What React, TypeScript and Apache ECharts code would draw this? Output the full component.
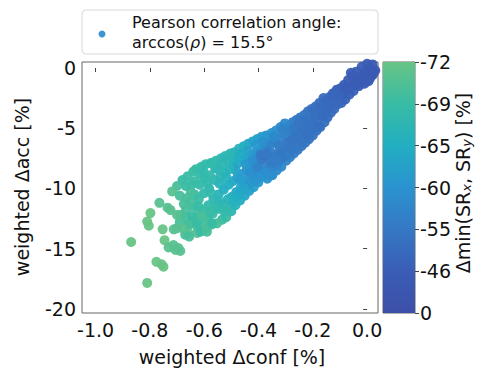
import React, { useEffect, useRef } from 'react';
import * as echarts from 'echarts';

const xTicks = [-1.0, -0.8, -0.6, -0.4, -0.2, 0.0];
const yTicks = [0, -5, -10, -15, -20];
const cbTickValues = [0, -46, -55, -60, -65, -69, -72];
const cbColors = ['#3d4fa8', '#3a5db5', '#3578c4', '#2a93cf', '#22aec2', '#38bca4', '#68c486'];

// [weighted Δconf, weighted Δacc, Δmin(SRx,SRy)]
const tipPoints: number[][] = [
  [0.03, -0.2, -40], [0.02, 0.3, -40], [0.01, 0.0, -42], [0.0, 0.35, -40], [-0.005, -0.3, -42],
  [0.02, -0.6, -42], [0.01, -0.9, -44], [-0.01, -1.3, -44], [0.0, -0.6, -42], [-0.02, 0.1, -42],
  [-0.025, -0.7, -44], [-0.03, -1.5, -46], [-0.015, -1.0, -44], [-0.04, -0.3, -42], [-0.045, -1.1, -44],
  [-0.05, -1.9, -47], [-0.055, -0.7, -44], [-0.06, -1.5, -46], [-0.065, -2.2, -47], [-0.07, -1.0, -44],
  [-0.075, -1.9, -47], [-0.08, -2.6, -48], [-0.085, -1.4, -46], [-0.09, -2.2, -47], [-0.095, -2.9, -48],
  [-0.1, -1.7, -46], [0.025, -0.4, -40], [-0.035, -0.9, -44], [0.005, -1.1, -44], [-0.06, -0.4, -42],
  [0.015, -0.3, -40], [-0.01, -0.6, -42], [-0.04, -1.4, -46], [-0.07, -1.6, -46], [-0.092, -1.7, -46],
  [-0.02, -1.1, -44],
];

const upperBand: number[][] = [
  [-0.104, -2.3, -49], [-0.108, -3.0, -50], [-0.112, -1.8, -48], [-0.117, -2.6, -49], [-0.121, -3.4, -50],
  [-0.126, -2.1, -49], [-0.129, -2.9, -50], [-0.133, -3.7, -51], [-0.138, -2.4, -49], [-0.141, -3.2, -50],
  [-0.146, -4.1, -51], [-0.149, -2.7, -50], [-0.153, -3.6, -51], [-0.157, -4.5, -52], [-0.161, -2.5, -50],
  [-0.164, -3.1, -51], [-0.168, -4.0, -51], [-0.172, -4.9, -52], [-0.176, -2.9, -51], [-0.179, -3.6, -51],
  [-0.183, -4.4, -52], [-0.186, -5.2, -53], [-0.19, -3.2, -52], [-0.193, -4.0, -52], [-0.197, -4.8, -52],
  [-0.2, -5.6, -53], [-0.204, -3.4, -53], [-0.207, -4.3, -52], [-0.211, -5.1, -53], [-0.214, -5.9, -54],
  [-0.218, -3.6, -53], [-0.221, -4.6, -53], [-0.225, -5.4, -52], [-0.228, -6.2, -54], [-0.232, -3.9, -54],
  [-0.235, -4.9, -53], [-0.239, -5.7, -53], [-0.242, -6.5, -54], [-0.246, -4.1, -55], [-0.249, -5.1, -54],
  [-0.253, -6.0, -53], [-0.256, -6.8, -55], [-0.26, -4.3, -55], [-0.263, -5.3, -54], [-0.267, -6.3, -54],
  [-0.27, -7.1, -56], [-0.274, -4.5, -56], [-0.277, -5.5, -55], [-0.281, -6.5, -54], [-0.284, -7.4, -56],
  [-0.288, -4.8, -57], [-0.291, -5.8, -55], [-0.295, -6.8, -55], [-0.298, -7.7, -57],
  [-0.123, -2.2, -49], [-0.145, -3.3, -50], [-0.159, -3.8, -51], [-0.17, -3.3, -51], [-0.181, -4.9, -52],
  [-0.195, -3.6, -52], [-0.209, -4.7, -53], [-0.216, -5.5, -53], [-0.23, -4.4, -53], [-0.237, -5.3, -53],
  [-0.244, -6.1, -54], [-0.251, -4.6, -54], [-0.258, -5.6, -54], [-0.265, -6.6, -55], [-0.272, -5.0, -55],
  [-0.279, -6.0, -54], [-0.286, -6.9, -55], [-0.293, -5.3, -56], [-0.3, -6.3, -54], [-0.3, -7.3, -56],
];

const midBand: number[][] = [
  [-0.303, -4.6, -58], [-0.306, -5.5, -57], [-0.31, -6.6, -55], [-0.313, -7.5, -55], [-0.316, -8.2, -58],
  [-0.319, -4.9, -58], [-0.322, -5.9, -57], [-0.326, -7.0, -55], [-0.329, -7.9, -56], [-0.333, -8.5, -58],
  [-0.336, -5.2, -59], [-0.339, -6.2, -58], [-0.343, -7.3, -55], [-0.346, -8.2, -57], [-0.349, -8.9, -59],
  [-0.352, -5.4, -60], [-0.355, -6.0, -59], [-0.358, -6.9, -56], [-0.362, -7.7, -55], [-0.365, -8.5, -58],
  [-0.368, -9.2, -60], [-0.371, -5.6, -60], [-0.374, -6.5, -58], [-0.378, -7.3, -54], [-0.381, -8.2, -57],
  [-0.384, -9.0, -60], [-0.388, -5.7, -61], [-0.391, -6.8, -58], [-0.394, -7.6, -54], [-0.398, -8.6, -58],
  [-0.401, -9.5, -61], [-0.405, -5.9, -62], [-0.408, -7.0, -59], [-0.411, -7.9, -56], [-0.414, -8.9, -59],
  [-0.418, -9.9, -62], [-0.421, -6.1, -63], [-0.424, -7.2, -60], [-0.428, -8.2, -58], [-0.431, -9.2, -60],
  [-0.434, -10.2, -62], [-0.438, -6.3, -63], [-0.441, -7.4, -62], [-0.444, -8.5, -60], [-0.448, -9.5, -61],
  [-0.451, -10.6, -63], [-0.455, -6.5, -65], [-0.458, -7.6, -64], [-0.461, -8.8, -61], [-0.465, -9.9, -63],
  [-0.468, -11.0, -65], [-0.472, -6.7, -66], [-0.475, -7.9, -64], [-0.478, -9.1, -62], [-0.482, -10.3, -64],
  [-0.485, -11.4, -66], [-0.489, -7.0, -66], [-0.492, -8.2, -63], [-0.495, -9.4, -63], [-0.498, -10.7, -65],
  [-0.5, -11.9, -67],
  [-0.312, -5.1, -57], [-0.318, -7.1, -55], [-0.327, -6.4, -56], [-0.334, -7.6, -56], [-0.342, -5.7, -58],
  [-0.35, -7.9, -56], [-0.357, -8.9, -59], [-0.36, -6.4, -57], [-0.369, -7.1, -55], [-0.377, -8.7, -59],
  [-0.385, -6.2, -59], [-0.392, -7.2, -55], [-0.397, -9.1, -60], [-0.403, -8.2, -57], [-0.41, -6.4, -61],
  [-0.416, -9.4, -60], [-0.423, -7.7, -59], [-0.43, -8.7, -59], [-0.436, -9.7, -61], [-0.44, -6.9, -62],
  [-0.447, -8.0, -61], [-0.453, -10.0, -63], [-0.46, -7.1, -64], [-0.466, -9.3, -62], [-0.47, -10.5, -64],
  [-0.477, -7.3, -65], [-0.484, -8.5, -63], [-0.487, -10.8, -65], [-0.494, -7.6, -65], [-0.497, -11.3, -66],
];

const lowerBand: number[][] = [
  [-0.504, -7.1, -67], [-0.507, -8.4, -66], [-0.51, -9.7, -65], [-0.513, -10.9, -66], [-0.516, -11.8, -68],
  [-0.519, -12.4, -69], [-0.522, -7.3, -67], [-0.525, -8.7, -66], [-0.528, -10.1, -65], [-0.531, -11.3, -67],
  [-0.534, -12.6, -69], [-0.538, -7.5, -67], [-0.541, -9.0, -67], [-0.544, -9.6, -66], [-0.547, -10.5, -66],
  [-0.55, -11.7, -68], [-0.553, -12.9, -70], [-0.557, -7.7, -68], [-0.56, -8.3, -67], [-0.563, -9.3, -67],
  [-0.566, -10.9, -67], [-0.569, -12.1, -69], [-0.572, -13.0, -70], [-0.576, -7.9, -68], [-0.579, -8.9, -68],
  [-0.582, -10.0, -67], [-0.585, -11.4, -68], [-0.588, -12.5, -69], [-0.591, -13.3, -70], [-0.595, -8.0, -68],
  [-0.598, -9.2, -68], [-0.601, -10.4, -68], [-0.604, -11.8, -69], [-0.607, -13.5, -71], [-0.611, -8.2, -68],
  [-0.614, -8.8, -68], [-0.617, -9.7, -68], [-0.62, -10.9, -69], [-0.623, -12.2, -70], [-0.626, -13.7, -71],
  [-0.63, -8.4, -69], [-0.633, -9.4, -69], [-0.636, -10.5, -69], [-0.639, -11.5, -69], [-0.642, -12.7, -70],
  [-0.646, -9.7, -69], [-0.649, -10.3, -70], [-0.652, -11.1, -70], [-0.655, -13.0, -70], [-0.658, -13.7, -71],
  [-0.64, -8.6, -69], [-0.661, -9.0, -69], [-0.664, -10.8, -70], [-0.667, -11.8, -70], [-0.67, -12.4, -70],
  [-0.512, -7.7, -67], [-0.518, -9.1, -66], [-0.527, -11.9, -68], [-0.533, -8.0, -67], [-0.545, -11.1, -67],
  [-0.549, -8.4, -67], [-0.562, -11.6, -68], [-0.568, -7.9, -68], [-0.574, -10.4, -68], [-0.58, -12.0, -69],
  [-0.59, -9.5, -68], [-0.596, -12.8, -70], [-0.603, -8.6, -68], [-0.61, -12.3, -70], [-0.621, -11.5, -69],
  [-0.628, -13.1, -70],
];

const tailPoints: number[][] = [
  [-0.668, -9.8, -69], [-0.68, -9.3, -69], [-0.7, -9.8, -70], [-0.718, -10.25, -71], [-0.69, -10.6, -70],
  [-0.675, -11.3, -70], [-0.688, -12.2, -70], [-0.645, -12.3, -69], [-0.66, -13.0, -70], [-0.69, -12.8, -70],
  [-0.67, -13.85, -70], [-0.68, -13.3, -71], [-0.7, -13.3, -71], [-0.712, -13.4, -71], [-0.626, -12.9, -69],
  [-0.614, -13.6, -69], [-0.735, -11.6, -71], [-0.724, -11.8, -71], [-0.765, -11.2, -71], [-0.798, -12.05, -72],
  [-0.81, -12.75, -72], [-0.804, -13.1, -72], [-0.753, -13.4, -72], [-0.746, -14.3, -72], [-0.731, -14.9, -71],
  [-0.713, -14.7, -71], [-0.695, -14.95, -71], [-0.688, -15.2, -71], [-0.706, -15.1, -71], [-0.869, -14.45, -72],
  [-0.81, -17.85, -72], [-0.776, -16.1, -72], [-0.757, -16.3, -72], [-0.75, -16.5, -72], [-0.7, -12.2, -71],
  [-0.655, -14.0, -70], [-0.571, -12.9, -69], [-0.59, -13.6, -70],
];

const FONT = 'DejaVu Sans';

// position of a Δmin value on the (non-linear) colorbar, 0..6
function cbPos(v: number): number {
  for (let i = 0; i < cbTickValues.length - 1; i++) {
    const a = cbTickValues[i];
    const b = cbTickValues[i + 1];
    if (v <= a && v >= b) return i + (a - v) / (a - b);
  }
  return v > 0 ? 0 : cbTickValues.length - 1;
}

export default function App() {
  const ref = useRef<HTMLDivElement>(null);
  useEffect(() => {
    document.body.style.margin = '0';
    const chart = echarts.init(ref.current!, null, { renderer: 'svg' });
    const all = [...tipPoints, ...upperBand, ...midBand, ...lowerBand, ...tailPoints];
    const data = all.map((p) => [p[0], p[1], cbPos(p[2])]);
    const gradStops = cbColors
      .map((c, i) => ({ offset: 1 - i / (cbColors.length - 1), color: c }))
      .reverse();
    chart.setOption({
      animation: false,
      grid: [
        { left: 82, top: 62, width: 296, height: 251, show: true, borderColor: '#666', borderWidth: 1, backgroundColor: 'transparent' },
        { left: 383, top: 62, width: 32, height: 251, show: true, borderColor: '#666', borderWidth: 1, backgroundColor: 'transparent' },
      ],
      xAxis: [
        {
          type: 'value', gridIndex: 0, min: -1.05, max: 0.04,
          splitLine: { show: false }, axisLine: { show: false },
          axisTick: { show: true, length: 4, customValues: xTicks, lineStyle: { color: '#444' } },
          axisLabel: { customValues: xTicks, margin: 7, fontSize: 19, fontFamily: FONT, color: '#111', formatter: (v: number) => v.toFixed(1) },
        },
        { type: 'category', gridIndex: 1, data: [''], show: false },
      ],
      yAxis: [
        {
          type: 'value', gridIndex: 0, min: -20.35, max: 0.5,
          splitLine: { show: false }, axisLine: { show: false },
          axisTick: { show: true, length: 4, customValues: yTicks, lineStyle: { color: '#444' } },
          axisLabel: { customValues: yTicks, margin: 6, fontSize: 19, fontFamily: FONT, color: '#111' },
        },
        {
          type: 'value', gridIndex: 1, min: 0, max: 6, interval: 1, position: 'right',
          splitLine: { show: false }, axisLine: { show: false },
          axisTick: { show: true, length: 4, lineStyle: { color: '#444' } },
          axisLabel: { margin: 5, fontSize: 19, fontFamily: FONT, color: '#111', formatter: (v: number) => String(cbTickValues[Math.round(v)]) },
        },
      ],
      visualMap: {
        type: 'continuous', show: false, dimension: 2, min: 0, max: 6, seriesIndex: 0,
        inRange: { color: cbColors },
      },
      series: [
        {
          type: 'scatter', xAxisIndex: 0, yAxisIndex: 0, data, symbolSize: 10,
          itemStyle: { opacity: 0.95 }, silent: true,
        },
        {
          type: 'bar', xAxisIndex: 1, yAxisIndex: 1, data: [6], barWidth: '100%', silent: true,
          itemStyle: { color: new echarts.graphic.LinearGradient(0, 0, 0, 1, gradStops) },
        },
      ],
      graphic: [
        { type: 'rect', shape: { x: 82, y: 10, width: 296, height: 44, r: 4 }, style: { fill: '#fff', stroke: '#d8d8d8', lineWidth: 1 } },
        { type: 'circle', shape: { cx: 102, cy: 34, r: 3.5 }, style: { fill: '#3f95d2' } },
        { type: 'text', x: 132, y: 22, style: { text: 'Pearson correlation angle:', fontSize: 16, fontFamily: FONT, fill: '#111', verticalAlign: 'middle' } },
        {
          type: 'text', x: 132, y: 42,
          style: {
            text: 'arccos({i|ρ}) = 15.5°', fontSize: 16, fontFamily: FONT, fill: '#111', verticalAlign: 'middle',
            rich: { i: { fontStyle: 'italic', fontSize: 16, fontFamily: FONT, fill: '#111' } },
          },
        },
        { type: 'text', x: 232, y: 357, style: { text: 'weighted Δconf [%]', fontSize: 19, fontFamily: FONT, fill: '#111', align: 'center', verticalAlign: 'middle' } },
        { type: 'text', x: 22, y: 187, rotation: Math.PI / 2, style: { text: 'weighted Δacc [%]', fontSize: 19, fontFamily: FONT, fill: '#111', align: 'center', verticalAlign: 'middle' } },
        {
          type: 'text', x: 463, y: 183, rotation: Math.PI / 2,
          style: {
            text: 'Δmin(SR{s|x}, SR{s|y}) [%]', fontSize: 19, fontFamily: FONT, fill: '#111', align: 'center', verticalAlign: 'middle',
            rich: { s: { fontSize: 13, fontStyle: 'italic', fontFamily: FONT, fill: '#111', verticalAlign: 'bottom', padding: [6, 0, 0, 0] } },
          },
        },
      ],
    });
    return () => chart.dispose();
  }, []);
  return <div ref={ref} style={{ width: 487, height: 370 }} />;
}
